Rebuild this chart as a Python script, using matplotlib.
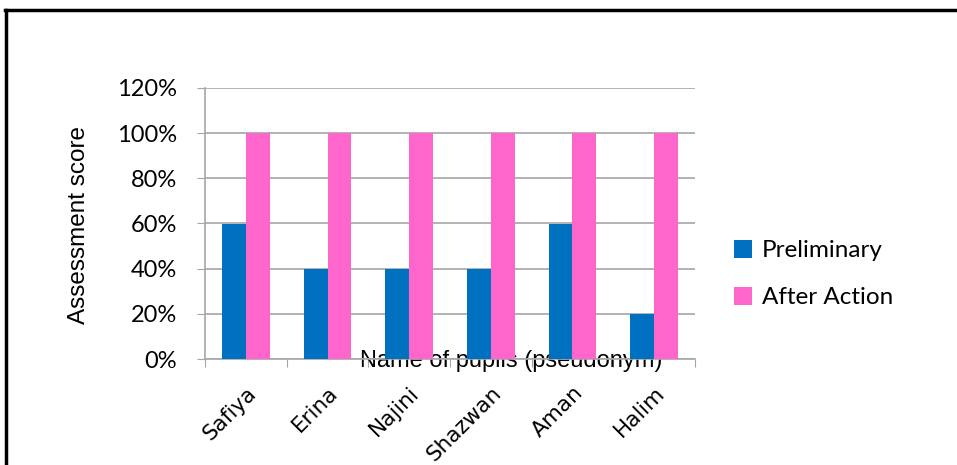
import matplotlib
matplotlib.use("Agg")
import matplotlib.pyplot as plt
from matplotlib.lines import Line2D
from matplotlib.ticker import FuncFormatter, MultipleLocator
import numpy as np

categories = ["Safiya", "Erina", "Najini", "Shazwan", "Aman", "Halim"]
preliminary = [0.60, 0.40, 0.40, 0.40, 0.60, 0.20]
after_action = [1.00, 1.00, 1.00, 1.00, 1.00, 1.00]
series_names = ["Preliminary", "After Action"]
colors = ["#0070C0", "#FF66CC"]

W, H = 957, 465
fig = plt.figure(figsize=(W / 100, H / 100), dpi=100)
ax = fig.add_axes([205 / W, 1 - 359 / H, (695 - 205) / W, (359 - 88) / H])

x = np.arange(len(categories))
bw = 0.29
ax.bar(x - bw / 2, preliminary, bw, color=colors[0], label=series_names[0], zorder=3)
ax.bar(x + bw / 2, after_action, bw, color=colors[1], label=series_names[1], zorder=3)

ax.set_xlim(-0.5, len(categories) - 0.5)
ax.set_ylim(0, 1.2)
ax.yaxis.set_major_locator(MultipleLocator(0.2))
ax.yaxis.set_major_formatter(FuncFormatter(lambda v, p: f"{v*100:.0f}%"))
ax.grid(axis="y", color="#A6A6A6", linewidth=1.2, zorder=0)

grey = "#A6A6A6"
for s in ["top", "right"]:
    ax.spines[s].set_visible(False)
for s in ["left", "bottom"]:
    ax.spines[s].set_color(grey)
    ax.spines[s].set_linewidth(1.2)

ax.set_xticks(np.arange(-0.5, len(categories) + 0.5, 1), minor=False)
ax.set_xticklabels([])
ax.tick_params(axis="x", which="major", length=6, color=grey, direction="out")
ax.set_xticks(x, minor=True)
ax.set_xticklabels(categories, minor=True, rotation=45, ha="right", va="top",
                   rotation_mode="anchor", fontsize=15.5, family="DejaVu Sans")
ax.tick_params(axis="x", which="minor", length=0, pad=17)
ax.tick_params(axis="y", length=6, color=grey, labelsize=17, pad=14)
for t in ax.get_yticklabels():
    t.set_family("Lato")

ax.set_ylabel("Assessment score", fontsize=17.5, family="Liberation Sans")
ax.yaxis.set_label_coords(-0.235, 0.494)
ax.set_xlabel("Name of pupils (pseudonym)", fontsize=17, family="Liberation Sans", va="center")
ax.xaxis.set_label_coords(0.624, -0.008)

leg = fig.legend(loc="upper left", bbox_to_anchor=(712 / W, 1 - 218 / H), frameon=False,
                 prop={"family": "Lato", "size": 17.5}, handlelength=0.75, handleheight=0.75,
                 handletextpad=0.4, labelspacing=1.05)

# outer frame (left and top edges)
fig.add_artist(Line2D([6 / W, 6 / W], [0, 1 - 10 / H], transform=fig.transFigure, color="black", lw=2.5))
fig.add_artist(Line2D([5 / W, 1], [1 - 10 / H, 1 - 10 / H], transform=fig.transFigure, color="black", lw=2.5))

fig.savefig("out.png", dpi=100)
